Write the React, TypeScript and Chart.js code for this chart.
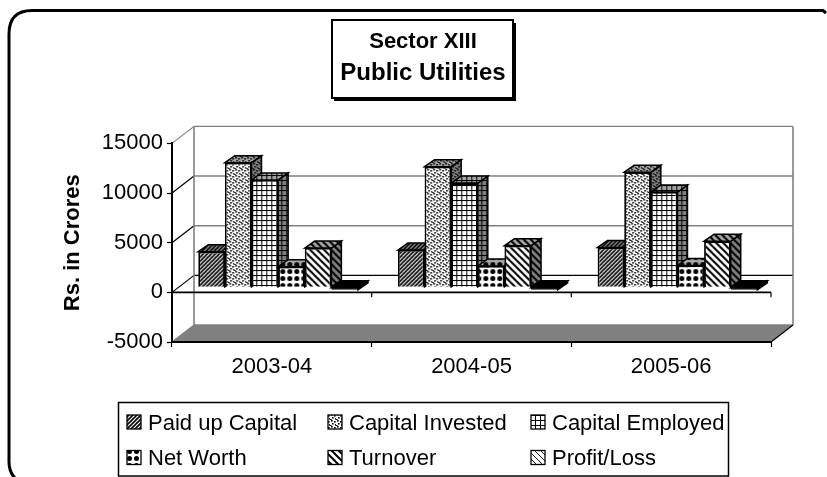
import React, { useEffect, useRef } from "react";
import { Chart, registerables } from "chart.js";

Chart.register(...registerables);

const categories = ["2003-04", "2004-05", "2005-06"];
const seriesNames = ["Paid up Capital", "Capital Invested", "Capital Employed", "Net Worth", "Turnover", "Profit/Loss"];
const paidUpCapital = [3590, 3760, 4020];
const capitalInvested = [12560, 12150, 11600];
const capitalEmployed = [10820, 10500, 9600];
const netWorth = [2080, 2150, 2200];
const turnover = [3960, 4200, 4650];
const profitLoss = [-250, -250, -250];
const chartTitle = "Sector XIII";
const chartSubtitle = "Public Utilities";
const yAxisTitle = "Rs. in Crores";

const FONT = "'Liberation Sans', Arial, sans-serif";
const WALL = { dx: 22, dy: 17 };
const PLANE = { dx: 6.3, dy: 5 };
const BAR = { dx: 10, dy: 7 };

type Paint = (c: CanvasRenderingContext2D, s: number) => void;

const line = (c: CanvasRenderingContext2D, a: number, b: number, d: number, e: number) => {
  c.beginPath();
  c.moveTo(a, b);
  c.lineTo(d, e);
  c.stroke();
};

const painters: { size: number; paint: Paint }[] = [
  {
    size: 4,
    paint: (c) => {
      c.lineWidth = 1.6;
      line(c, -1, 5, 5, -1);
      line(c, -3, 3, 3, -3);
      line(c, 1, 7, 7, 1);
    },
  },
  {
    size: 6,
    paint: (c) => {
      [[1, 0], [4, 1], [2, 3], [5, 4], [0, 5]].forEach(([x, y]) => c.fillRect(x, y, 1.6, 1.6));
    },
  },
  {
    size: 5,
    paint: (c) => {
      c.lineWidth = 1;
      line(c, 0.5, 0, 0.5, 5);
      line(c, 0, 0.5, 5, 0.5);
    },
  },
  {
    size: 7,
    paint: (c) => {
      c.beginPath();
      c.arc(3.5, 3.5, 2.5, 0, Math.PI * 2);
      c.fill();
    },
  },
  {
    size: 7,
    paint: (c) => {
      c.lineWidth = 2;
      line(c, -1, -1, 8, 8);
      line(c, -1, 6, 1, 8);
      line(c, 6, -1, 8, 1);
    },
  },
  {
    size: 6,
    paint: (c) => {
      c.lineWidth = 0.9;
      line(c, -1, -1, 7, 7);
      line(c, -1, 2, 2, -1);
      line(c, 4, 7, 7, 4);
    },
  },
];

function makePattern(ctx: CanvasRenderingContext2D, index: number, bg: string) {
  const { size, paint } = painters[index];
  const tile = document.createElement("canvas");
  tile.width = size;
  tile.height = size;
  const c = tile.getContext("2d")!;
  c.fillStyle = bg;
  c.fillRect(0, 0, size, size);
  c.fillStyle = "#000";
  c.strokeStyle = "#000";
  paint(c, size);
  return ctx.createPattern(tile, "repeat")!;
}

const poly = (ctx: CanvasRenderingContext2D, pts: number[][], fill: any, stroke?: string, lw = 1.5) => {
  ctx.beginPath();
  pts.forEach(([x, y], i) => (i ? ctx.lineTo(x, y) : ctx.moveTo(x, y)));
  ctx.closePath();
  if (fill) {
    ctx.fillStyle = fill;
    ctx.fill();
  }
  if (stroke) {
    ctx.strokeStyle = stroke;
    ctx.lineWidth = lw;
    ctx.stroke();
  }
};

const seg = (ctx: CanvasRenderingContext2D, x1: number, y1: number, x2: number, y2: number, color: string, lw: number) => {
  ctx.strokeStyle = color;
  ctx.lineWidth = lw;
  ctx.beginPath();
  ctx.moveTo(x1, y1);
  ctx.lineTo(x2, y2);
  ctx.stroke();
};

export default function App() {
  const ref = useRef<HTMLCanvasElement>(null);

  useEffect(() => {
    const canvas = ref.current!;
    const ctx = canvas.getContext("2d")!;
    const sideFills = painters.map((_, i) => (i === 5 ? "#000" : makePattern(ctx, i, "#808080")));
    const topFills = painters.map((_, i) => (i === 5 ? "#000" : makePattern(ctx, i, "#a6a6a6")));
    const frontFills = painters.map((_, i) => (i === 5 ? "#000" : makePattern(ctx, i, "#fff")));
    const swatchFills = painters.map((_, i) => makePattern(ctx, i, "#fff"));
    const values = [paidUpCapital, capitalInvested, capitalEmployed, netWorth, turnover, profitLoss];

    const scenePlugin = {
      id: "scene3d",
      beforeDraw(chart: any) {
        const c = chart.ctx;
        const { left, right } = chart.chartArea;
        const y = chart.scales.y;
        c.save();
        c.fillStyle = "#fff";
        c.fillRect(0, 0, chart.width, chart.height);

        // page frame
        c.strokeStyle = "#000";
        c.lineWidth = 3;
        c.beginPath();
        c.moveTo(826, 13);
        c.lineTo(823, 10.5);
        c.lineTo(32, 10.5);
        c.quadraticCurveTo(9, 10.5, 9, 34);
        c.lineTo(9, 462);
        c.quadraticCurveTo(9, 472, 15, 478);
        c.stroke();

        // title box
        c.fillStyle = "#000";
        c.fillRect(334, 23, 182, 78);
        c.fillStyle = "#fff";
        c.fillRect(332, 20, 181, 78);
        c.strokeStyle = "#000";
        c.lineWidth = 2;
        c.strokeRect(332, 20, 181, 78);

        // floor
        const y0 = y.getPixelForValue(-5000);
        poly(c, [[left, y0], [left + WALL.dx, y0 - WALL.dy], [right + WALL.dx, y0 - WALL.dy], [right, y0]], "#808080");

        // walls and gridlines
        y.ticks.forEach((t: any) => {
          const py = y.getPixelForValue(t.value);
          const strong = t.value === 0;
          const edge = t.value === 15000 || t.value === -5000;
          seg(c, left, py, left + WALL.dx, py - WALL.dy, edge ? "#808080" : "#000", 1.2);
          seg(c, left + WALL.dx, py - WALL.dy, right + WALL.dx, py - WALL.dy, strong ? "#000" : "#808080", 1.4);
        });
        const topY = y.getPixelForValue(15000) - WALL.dy;
        const botY = y0 - WALL.dy;
        seg(c, left + WALL.dx, topY, left + WALL.dx, botY, "#808080", 1.6);
        seg(c, right + WALL.dx, topY, right + WALL.dx, botY, "#808080", 1.6);
        seg(c, right, y0, right + WALL.dx, botY, "#000", 1.2);

        // front zero line with category ticks
        const zero = y.getPixelForValue(0);
        seg(c, left, zero, right, zero, "#000", 1.6);
        const step = (right - left) / categories.length;
        categories.forEach((_, i) => {
          const tx = left + step * (i + 1);
          seg(c, tx, zero, tx, zero + 5, "#000", 1.2);
        });
        c.restore();
      },
      beforeDatasetsDraw(chart: any) {
        const c = chart.ctx;
        chart.data.datasets.forEach((_: any, i: number) => {
          const meta = chart.getDatasetMeta(i);
          c.save();
          c.translate(PLANE.dx, -PLANE.dy);
          meta.data.forEach((el: any) => {
            const { x, y, base, width } = el.getProps(["x", "y", "base", "width"], true);
            const l = x - width / 2;
            const r = x + width / 2;
            const t = Math.min(y, base);
            const b = Math.max(y, base);
            poly(c, [[r, t], [r + BAR.dx, t - BAR.dy], [r + BAR.dx, b - BAR.dy], [r, b]], sideFills[i], "#000");
            poly(c, [[l, t], [l + BAR.dx, t - BAR.dy], [r + BAR.dx, t - BAR.dy], [r, t]], topFills[i], "#000");
          });
          meta.controller.draw();
          c.restore();
        });
        return false;
      },
      afterDraw(chart: any) {
        const c = chart.ctx;
        c.save();
        c.fillStyle = "#fff";
        c.fillRect(118.5, 402.5, 610, 73.5);
        c.strokeStyle = "#000";
        c.lineWidth = 1.5;
        c.strokeRect(118.5, 402.5, 610, 73.5);
        const cols = [127, 328, 531];
        const rows = [415, 450.5];
        c.font = `22px ${FONT}`;
        c.textBaseline = "alphabetic";
        c.textAlign = "left";
        seriesNames.forEach((name, i) => {
          const x = cols[i % 3];
          const y = rows[Math.floor(i / 3)];
          c.fillStyle = swatchFills[i];
          c.fillRect(x, y, 14, 14);
          c.strokeStyle = "#000";
          c.lineWidth = 1.3;
          c.strokeRect(x, y, 14, 14);
          c.fillStyle = "#000";
          c.fillText(name, x + 21, y + 14.5);
        });
        c.restore();
      },
    };

    const chart = new Chart(canvas, {
      type: "bar",
      data: {
        labels: categories,
        datasets: seriesNames.map((label, i) => ({
          label,
          data: values[i],
          backgroundColor: frontFills[i],
          borderColor: "#000",
          borderWidth: 1.8,
          categoryPercentage: 0.8,
          barPercentage: 1,
        })),
      },
      plugins: [scenePlugin],
      options: {
        responsive: false,
        animation: false,
        devicePixelRatio: 1,
        layout: { padding: { left: 75, right: 56, top: 0, bottom: 95 } },
        font: { family: FONT },
        plugins: {
          legend: { display: false },
          tooltip: { enabled: false },
          title: {
            display: true,
            text: chartTitle,
            color: "#000",
            font: { family: FONT, size: 22, weight: "bold" },
            padding: { top: 28.8, bottom: 0 },
          },
          subtitle: {
            display: true,
            text: chartSubtitle,
            color: "#000",
            font: { family: FONT, size: 24, weight: "bold" },
            padding: { top: 3.4, bottom: 56 },
          },
        },
        scales: {
          x: {
            afterFit: (s: any) => {
              s.height = 40;
            },
            border: { display: true, color: "#000", width: 2 },
            grid: { drawOnChartArea: false, drawTicks: true, tickLength: 5, tickColor: "#000", tickWidth: 1.2 },
            ticks: { color: "#000", padding: 7, maxRotation: 0, font: { family: FONT, size: 22 } },
          },
          y: {
            min: -5000,
            max: 15000,
            afterFit: (s: any) => {
              s.width = 97;
            },
            border: { display: true, color: "#000", width: 2 },
            grid: { drawOnChartArea: false, drawTicks: true, tickLength: 5, tickColor: "#000", tickWidth: 1.2 },
            ticks: {
              stepSize: 5000,
              color: "#000",
              padding: 4,
              font: { family: FONT, size: 22 },
              callback: (v: any) => String(v),
            },
            title: {
              display: true,
              text: yAxisTitle,
              color: "#000",
              font: { family: FONT, size: 22, weight: "bold" },
              padding: { top: -15.2, bottom: 0 },
            },
          },
        },
      } as any,
    });
    return () => chart.destroy();
  }, []);

  return (
    <div style={{ position: "fixed", left: 0, top: 0, width: 827, height: 477, overflow: "hidden" }}>
      <canvas ref={ref} width={827} height={477} style={{ display: "block" }} />
    </div>
  );
}
